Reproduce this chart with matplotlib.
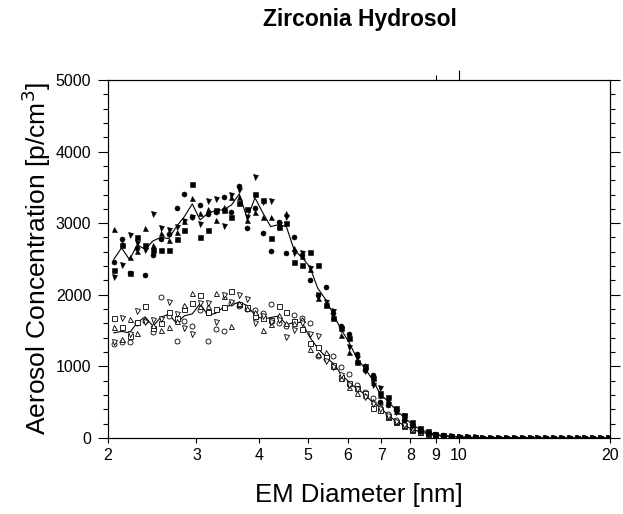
import numpy as np
import matplotlib
matplotlib.use('Agg')
import matplotlib.pyplot as plt
from matplotlib.ticker import FixedLocator, NullFormatter, MultipleLocator

plt.rcParams['font.family'] = ['Liberation Sans', 'DejaVu Sans']

# channel diameters [nm]
diam = [2.054, 2.128, 2.207, 2.288, 2.371, 2.458, 2.548, 2.642, 2.738, 2.839,
        2.943, 3.051, 3.162, 3.278, 3.398, 3.523, 3.652, 3.786, 3.924, 4.068,
        4.217, 4.372, 4.532, 4.698, 4.870, 5.048, 5.233, 5.425, 5.623, 5.829,
        6.043, 6.264, 6.494, 6.732, 6.978, 7.234, 7.499, 7.774, 8.058, 8.354,
        8.660, 8.977, 9.306, 9.647, 10.000, 10.366, 10.746, 11.140, 11.548, 11.971,
        12.409, 12.864, 13.335, 13.824, 14.330, 14.855, 15.399, 15.963, 16.548, 17.154,
        17.783, 18.434, 19.110, 19.810]

upper_tail = [25, 18, 12, 8, 6, 4, 3, 2, 2, 1, 1, 0, 0, 0, 0, 0, 0, 0, 0, 0, 0]
lower_tail = [18, 12, 8, 5, 4, 3, 2, 1, 1, 0, 0, 0, 0, 0, 0, 0, 0, 0, 0, 0, 0]

# filled symbols (upper set)
up_circle = [2463, 2780, 2300, 2650, 2277, 2556, 2780, 2850, 3208, 3404,
             3092, 3255, 3129, 3157, 3371, 3160, 3520, 2938, 3209, 2868,
             2612, 3013, 2589, 2803, 2550, 2207, 2000, 2114, 1740, 1560,
             1453, 1173, 950, 880, 507, 461, 391, 256, 196, 121,
             88, 56, 37] + upper_tail
up_square = [2347, 2697, 2305, 2804, 2691, 2630, 2626, 2626, 2780, 2906,
             3548, 2804, 2906, 3180, 3180, 3090, 3278, 3195, 3408, 3330,
             2790, 2943, 3000, 2459, 2412, 2603, 2417, 1860, 1681, 1530,
             1400, 1062, 1000, 840, 624, 577, 420, 326, 220, 140,
             95, 60, 40] + upper_tail
up_tri_up = [2920, 2720, 2524, 2617, 2938, 2700, 2860, 2770, 2882, 3031,
             3357, 3139, 3200, 3046, 3231, 3370, 3371, 3050, 3162, 3092,
             3092, 2970, 3139, 2650, 2540, 2360, 1950, 1870, 1700, 1439,
             1206, 1090, 1024, 780, 600, 530, 380, 280, 190, 115,
             80, 50, 30] + upper_tail
up_tri_dn = [2254, 2420, 2836, 2724, 2626, 3125, 2938, 2900, 2940, 3031,
             3080, 2985, 3315, 3334, 2962, 3400, 3465, 3085, 3642, 3290,
             3315, 2990, 3080, 2580, 2590, 2380, 2000, 1900, 1774, 1520,
             1276, 1120, 930, 740, 694, 470, 360, 300, 170, 105,
             70, 45, 30] + upper_tail

# open symbols (lower set)
lo_circle = [1309, 1345, 1340, 1600, 1640, 1485, 1974, 1700, 1359, 1640,
             1569, 1790, 1355, 1519, 1500, 1890, 1850, 1800, 1788, 1751,
             1868, 1602, 1560, 1718, 1680, 1602, 1150, 1100, 1150, 987,
             894, 740, 640, 558, 480, 330, 250, 190, 130, 95,
             70, 45, 30] + lower_tail
lo_square = [1681, 1546, 1420, 1616, 1844, 1530, 1600, 1756, 1680, 1798,
             1881, 1998, 1760, 1798, 1835, 2058, 1870, 1835, 1700, 1681,
             1650, 1848, 1756, 1635, 1518, 1331, 1276, 1150, 1020, 857,
             773, 700, 628, 419, 390, 298, 228, 170, 115, 80,
             55, 35, 25] + lower_tail
lo_tri_up = [1546, 1380, 1662, 1462, 1660, 1580, 1509, 1555, 1634, 1858,
             2030, 1840, 1850, 2030, 1980, 1569, 1880, 1820, 1760, 1509,
             1590, 1718, 1600, 1600, 1660, 1239, 1170, 1206, 1000, 840,
             708, 628, 600, 520, 440, 310, 240, 180, 125, 90,
             65, 40, 28] + lower_tail
lo_tri_dn = [1340, 1681, 1450, 1774, 1620, 1648, 1660, 1904, 1732, 1532,
             1453, 1880, 1880, 1625, 2000, 1900, 1998, 1942, 1611, 1700,
             1620, 1650, 1415, 1505, 1600, 1449, 1425, 1076, 990, 880,
             740, 680, 577, 480, 400, 300, 230, 175, 120, 85,
             60, 38, 25] + lower_tail

x = np.array(diam)
upper = np.array([up_circle, up_square, up_tri_up, up_tri_dn], dtype=float)
lower = np.array([lo_circle, lo_square, lo_tri_up, lo_tri_dn], dtype=float)

fig = plt.figure(figsize=(6.23, 5.14), dpi=100)
ax = fig.add_axes([0.1734, 0.1479, 0.8058, 0.6965])

ax.plot(x, upper.mean(axis=0), color='black', lw=0.8, zorder=2)
ax.plot(x, lower.mean(axis=0), color='black', lw=0.8, zorder=2)

markers = ['o', 's', '^', 'v']
ms = 3.6
for m, ys in zip(markers, lower):
    ax.plot(x, ys, ls='none', marker=m, ms=ms, mfc='white', mec='black',
            mew=0.6, zorder=3)
for m, ys in zip(markers, upper):
    ax.plot(x, ys, ls='none', marker=m, ms=ms, mfc='black', mec='black',
            mew=0.4, zorder=4)

ax.set_xscale('log')
ax.set_xlim(2, 20)
ax.set_ylim(0, 5000)

xt = [2, 3, 4, 5, 6, 7, 8, 9, 10, 20]
ax.xaxis.set_major_locator(FixedLocator(xt))
ax.xaxis.set_minor_locator(FixedLocator([]))
ax.set_xticklabels([str(v) for v in xt])
ax.yaxis.set_major_locator(MultipleLocator(1000))
ax.yaxis.set_minor_locator(MultipleLocator(200))

ax.tick_params(axis='x', which='major', direction='out', length=3.5, width=0.8,
               labelsize=11.5, pad=4)
ax.tick_params(axis='y', which='major', direction='out', length=7, width=0.8,
               labelsize=11.5, pad=5, right=True)
ax.tick_params(axis='y', which='minor', direction='out', length=3.5, width=0.8,
               right=True)

# top axis only carries ticks at 9 and 10
top = ax.twiny()
top.set_xscale('log')
top.set_xlim(2, 20)
top.xaxis.set_major_locator(FixedLocator([10]))
top.xaxis.set_minor_locator(FixedLocator([9]))
top.xaxis.set_major_formatter(NullFormatter())
top.xaxis.set_minor_formatter(NullFormatter())
top.tick_params(axis='x', which='major', direction='out', length=7, width=0.8)
top.tick_params(axis='x', which='minor', direction='out', length=3.5, width=0.8)

for a in (ax, top):
    for s in a.spines.values():
        s.set_linewidth(0.8)

ax.set_xlabel('EM Diameter [nm]', fontsize=18.5, labelpad=14)
ax.set_ylabel('Aerosol Concentration [p/cm$^3$]', fontsize=19, labelpad=2)
fig.text(0.577, 0.962, 'Zirconia Hydrosol', ha='center', va='center',
         fontsize=16.5, fontweight='bold')

fig.savefig('out.png', dpi=100)
